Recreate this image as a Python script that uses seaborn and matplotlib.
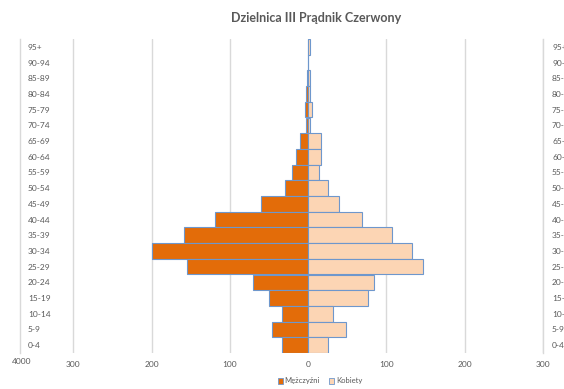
import matplotlib
matplotlib.use("Agg")
import matplotlib.pyplot as plt
import matplotlib.transforms as mtransforms
from matplotlib.patches import Patch
import seaborn as sns
import pandas as pd

title = "Dzielnica III Prądnik Czerwony"
age_groups = ["95+", "90-94", "85-89", "80-84", "75-79", "70-74", "65-69", "60-64",
              "55-59", "50-54", "45-49", "40-44", "35-39", "30-34", "25-29", "20-24",
              "15-19", "10-14", "5-9", "0-4"]
men = [0, 0, 1.5, 3, 4, 3, 10, 15, 21, 29, 60, 119, 158, 200, 155, 71, 50, 33, 46, 33]
women = [3, 0, 3, 2, 5, 3, 16, 16, 14, 25, 39, 69, 107, 133, 147, 84, 76, 32, 48, 26]
series = ["Mężczyźni", "Kobiety"]
x_ticks = [-300, -200, -100, 0, 100, 200, 300]
x_ticklabels = ["300", "200", "100", "0", "100", "200", "300"]

c_men = "#E36C09"
c_women = "#FCD5B4"
c_edge = "#6E97CC"
c_text = "#595959"
c_grid = "#D9D9D9"

df = pd.DataFrame({
    "age": age_groups * 2,
    "value": [-v for v in men] + women,
    "sex": [series[0]] * len(men) + [series[1]] * len(women),
})

sns.set_theme(style="white")
plt.rcParams["font.family"] = ["Lato", "DejaVu Sans"]

fig = plt.figure(figsize=(5.64, 3.89), dpi=100)
W, H = 564, 389
ax = fig.add_axes([20 / W, 1 - 353 / H, (543 - 20) / W, (353 - 39) / H])

sns.barplot(data=df, y="age", x="value", hue="sex", order=age_groups,
            hue_order=series, dodge=False, width=1.0, saturation=1,
            palette={series[0]: c_men, series[1]: c_women},
            edgecolor=c_edge, linewidth=0.8, orient="h", ax=ax, legend=False)

ax.set_xlim(-368, 300)
ax.set_ylim(len(age_groups) - 0.5, -0.5)
ax.set_xticks(x_ticks)
ax.set_xticklabels(x_ticklabels)
ax.set_xlabel("")
ax.set_ylabel("")
for xv in [-300, -200, -100, 100, 200, 300]:
    ax.axvline(xv, color=c_grid, lw=1, zorder=0)

for s in ["top", "bottom"]:
    ax.spines[s].set_visible(False)
for s in ["left", "right"]:
    ax.spines[s].set_color(c_grid)
    ax.spines[s].set_linewidth(1)

ax.tick_params(axis="x", length=0, pad=6, labelsize=6, labelcolor=c_text)
ax.tick_params(axis="y", length=0, labelsize=6, labelcolor=c_text,
               labelleft=True, labelright=True, pad=6.5)
shift = mtransforms.ScaledTranslation(17 / 100, 0, fig.dpi_scale_trans)
for t in ax.yaxis.get_major_ticks():
    t.label1.set_horizontalalignment("left")
    t.label1.set_transform(t.label1.get_transform() + shift)

fig.text(22 / W, 1 - 362 / H, "4000", ha="center", va="center", fontsize=6, color=c_text)

fig.text(316 / W, 1 - 18 / H, title, ha="center", va="center",
         fontsize=9, fontweight="bold", color=c_text)

handles = [Patch(facecolor=c_men, edgecolor=c_edge, lw=0.6, label=series[0]),
           Patch(facecolor=c_women, edgecolor=c_edge, lw=0.6, label=series[1])]
fig.legend(handles=handles, loc="center", bbox_to_anchor=(320 / W, 1 - 381 / H),
           ncol=2, frameon=False, fontsize=5.5, handlelength=0.7, handleheight=0.7,
           handletextpad=0.2, columnspacing=1.2, labelcolor=c_text)

fig.savefig("out.png", dpi=100)
